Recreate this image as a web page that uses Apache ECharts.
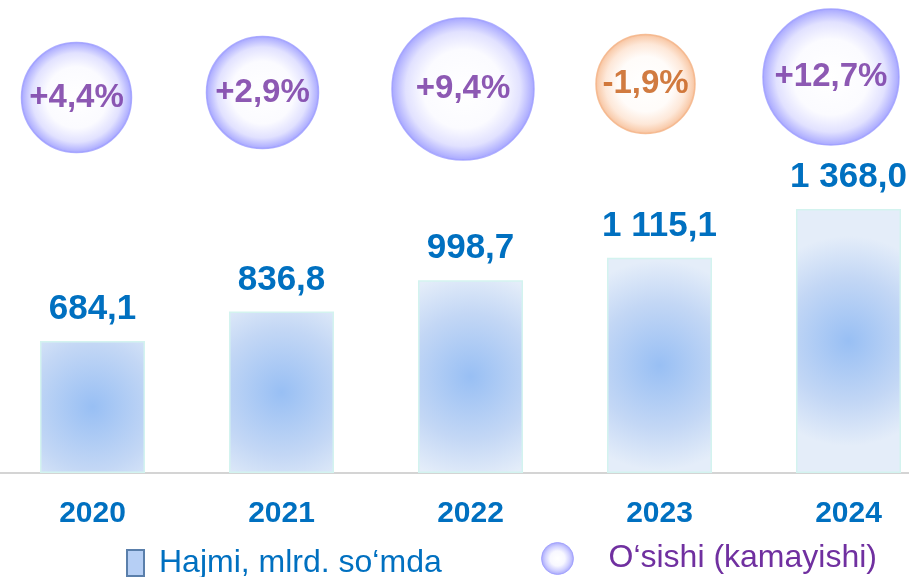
<!DOCTYPE html>
<html>
<head>
<meta charset="utf-8">
<script src="https://cdn.jsdelivr.net/npm/echarts@6/dist/echarts.min.js"></script>
<style>html,body{margin:0;padding:0;background:#fff}#c{width:909px;height:577px}</style>
</head>
<body>
<div id="c"></div>
<script>
// ---- data ----
const years = ['2020', '2021', '2022', '2023', '2024'];
const volume = [684.1, 836.8, 998.7, 1115.1, 1368.0];
const growth = [4.4, 2.9, 9.4, -1.9, 12.7];
const seriesNames = ['Hajmi, mlrd. so‘mda', 'O‘sishi (kamayishi)'];

// ---- styling / layout (not data) ----
const bubbleLook = [
  { size: 110, dx: -16, dy: 10.5 },
  { size: 112, dx: -19, dy: 5.5 },
  { size: 142, dx: -7.5, dy: 2 },
  { size: 99, dx: -14, dy: -3 },
  { size: 136, dx: -17.5, dy: -10 }
];
const bubbleRow = 1;

function fmtVol(v) {
  const parts = v.toFixed(1).split('.');
  return parts[0].replace(/\B(?=(\d{3})+(?!\d))/g, ' ') + ',' + parts[1];
}
function fmtPct(v) {
  return (v > 0 ? '+' : '') + v.toFixed(1).replace('.', ',') + '%';
}
function bubbleFill(neg) {
  return neg ? {
    type: 'radial', x: 0.5, y: 0.5, r: 0.5,
    colorStops: [
      { offset: 0, color: '#ffffff' }, { offset: 0.55, color: '#fffbf8' },
      { offset: 0.8, color: '#fde2cf' }, { offset: 0.94, color: '#f8c29c' },
      { offset: 1, color: '#f3ab7c' }]
  } : {
    type: 'radial', x: 0.5, y: 0.5, r: 0.5,
    colorStops: [
      { offset: 0, color: '#ffffff' }, { offset: 0.55, color: '#fafaff' },
      { offset: 0.8, color: '#dadaff' }, { offset: 0.94, color: '#a6a6ff' },
      { offset: 1, color: '#8e8eff' }]
  };
}
const legendBubbleFill = {
  type: 'radial', x: 0.5, y: 0.5, r: 0.5,
  colorStops: [
    { offset: 0, color: '#ffffff' }, { offset: 0.45, color: '#f6f6ff' },
    { offset: 0.75, color: '#c4c4ff' }, { offset: 1, color: '#8c8cf8' }]
};
const barFill = {
  type: 'radial', x: 0.5, y: 0.5, r: 1,
  colorStops: [
    { offset: 0, color: '#98bff4' },
    { offset: 0.6, color: '#c3d7f5' },
    { offset: 1, color: '#e4edf9' }]
};

const chart = echarts.init(document.getElementById('c'), null, { renderer: 'canvas' });
chart.setOption({
  animation: false,
  backgroundColor: '#ffffff',
  grid: { left: -2, width: 945, top: 87, height: 386, containLabel: false, outerBoundsMode: 'none' },
  xAxis: {
    type: 'category',
    data: years,
    axisLine: { show: true, lineStyle: { color: '#d4d4d4', width: 2 } },
    axisTick: { show: false },
    axisLabel: {
      margin: 26,
      color: '#0070c0',
      fontFamily: 'Liberation Sans',
      fontWeight: 'bold',
      fontSize: 30
    }
  },
  yAxis: [
    { type: 'value', min: 0, max: 2000, show: false },
    { type: 'value', min: 0, max: 1, show: false }
  ],
  legend: [
    {
      left: 126, top: 547, padding: 0,
      data: [{ name: seriesNames[0], icon: 'rect',
        itemStyle: { color: '#b6cff5', borderColor: '#5a7fab', borderWidth: 2 } }],
      itemWidth: 17, itemHeight: 26,
      selectedMode: false,
      textStyle: { color: '#0070c0', fontSize: 32, fontFamily: 'Liberation Sans', padding: [0, 0, 0, 10] }
    },
    {
      left: 541, top: 542, padding: 0,
      data: [{ name: seriesNames[1], icon: 'circle',
        itemStyle: { color: legendBubbleFill, borderColor: '#9b9bff', borderWidth: 1 } }],
      itemWidth: 32, itemHeight: 32,
      selectedMode: false,
      textStyle: { color: '#7030a0', fontSize: 32, fontFamily: 'Liberation Sans', padding: [0, 0, 0, 30] }
    }
  ],
  series: [
    {
      name: seriesNames[0],
      type: 'bar',
      data: volume,
      barWidth: 105,
      itemStyle: { color: barFill, borderColor: '#d3f3ef', borderWidth: 1.5 },
      label: {
        show: true, position: 'top', distance: 14,
        color: '#0070c0', fontFamily: 'Liberation Sans', fontWeight: 'bold', fontSize: 35,
        formatter: p => fmtVol(p.value)
      }
    },
    {
      name: seriesNames[1],
      type: 'scatter',
      yAxisIndex: 1,
      clip: false,
      z: 5,
      data: years.map((y, i) => ({
        value: [i, bubbleRow, growth[i]],
        symbolSize: bubbleLook[i].size,
        symbolOffset: [bubbleLook[i].dx, bubbleLook[i].dy],
        itemStyle: {
          color: bubbleFill(growth[i] < 0),
          borderColor: growth[i] < 0 ? '#f4b183' : '#9b9bff',
          borderWidth: 1.5
        },
        label: { color: growth[i] < 0 ? '#c55a11' : '#7030a0' }
      })),
      label: {
        show: true, position: 'inside',
        fontFamily: 'Liberation Sans', fontWeight: 'bold', fontSize: 33,
        formatter: p => fmtPct(p.value[2])
      },
      emphasis: { disabled: true }
    }
  ]
});
</script>
</body>
</html>
